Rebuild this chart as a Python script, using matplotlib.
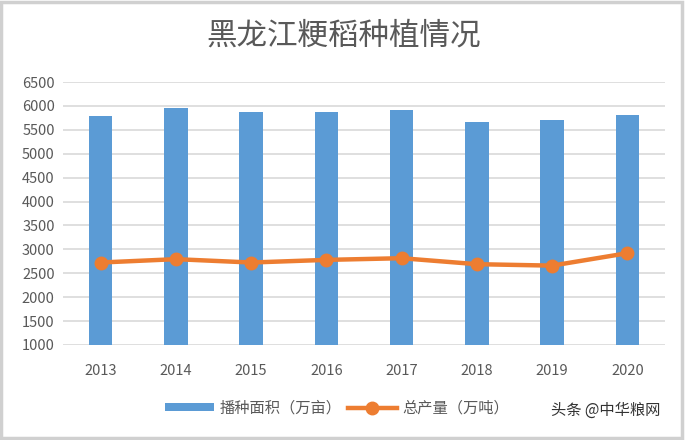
import numpy as np
import matplotlib.pyplot as plt
from matplotlib.patches import Rectangle

plt.rcParams['font.family'] = ['Noto Sans CJK SC', 'DejaVu Sans']

# data
years = ['2013', '2014', '2015', '2016', '2017', '2018', '2019', '2020']
area = [5790, 5950, 5875, 5875, 5915, 5665, 5705, 5810]      # 播种面积（万亩）
output = [2725, 2795, 2725, 2780, 2815, 2690, 2660, 2920]    # 总产量（万吨）

fig = plt.figure(figsize=(6.88, 4.4), dpi=100)
ax = fig.add_axes([63/688, 1-345/440, 602/688, 263/440])

x = np.arange(len(years))
bars = ax.bar(x, area, width=0.31, color='#5B9BD5', zorder=2, label='播种面积（万亩）')
line, = ax.plot(x, output, color='#ED7D31', lw=3.2, marker='o', markersize=9,
                zorder=3, label='总产量（万吨）')

ax.set_ylim(1000, 6500)
ax.set_xlim(-0.5, len(years) - 0.5)
ax.set_yticks(np.arange(1000, 6501, 500))
ax.set_xticks(x)
ax.set_xticklabels(years)
ax.grid(axis='y', color='#d9d9d9', lw=1.2, zorder=0)
for s in ax.spines.values():
    s.set_visible(False)
ax.tick_params(length=0, labelsize=10.5, colors='#595959', pad=6)
ax.tick_params(axis='x', pad=14)

fig.text(0.5, 1-36/440, '黑龙江粳稻种植情况', ha='center', va='center',
         fontsize=22, color='#595959')

leg = fig.legend([bars, line], ['播种面积（万亩）', '总产量（万吨）'],
                 loc='center', bbox_to_anchor=(0.49, 1-408/440), ncol=2,
                 frameon=False, fontsize=11, handlelength=3.2, handleheight=0.5,
                 columnspacing=0.4, handletextpad=0.4)
for t in leg.get_texts():
    t.set_color('#595959')

fig.text(660/688, 1-410/440, '头条 @中华粮网', ha='right', va='center',
         fontsize=11, color='#333333')

# grey frame around the chart
fig.patches.append(Rectangle((0.002, 0.004), 0.99, 0.992, transform=fig.transFigure,
                             fill=False, edgecolor='#d0d0d0', lw=2.5))

fig.savefig('out.png', dpi=100)
